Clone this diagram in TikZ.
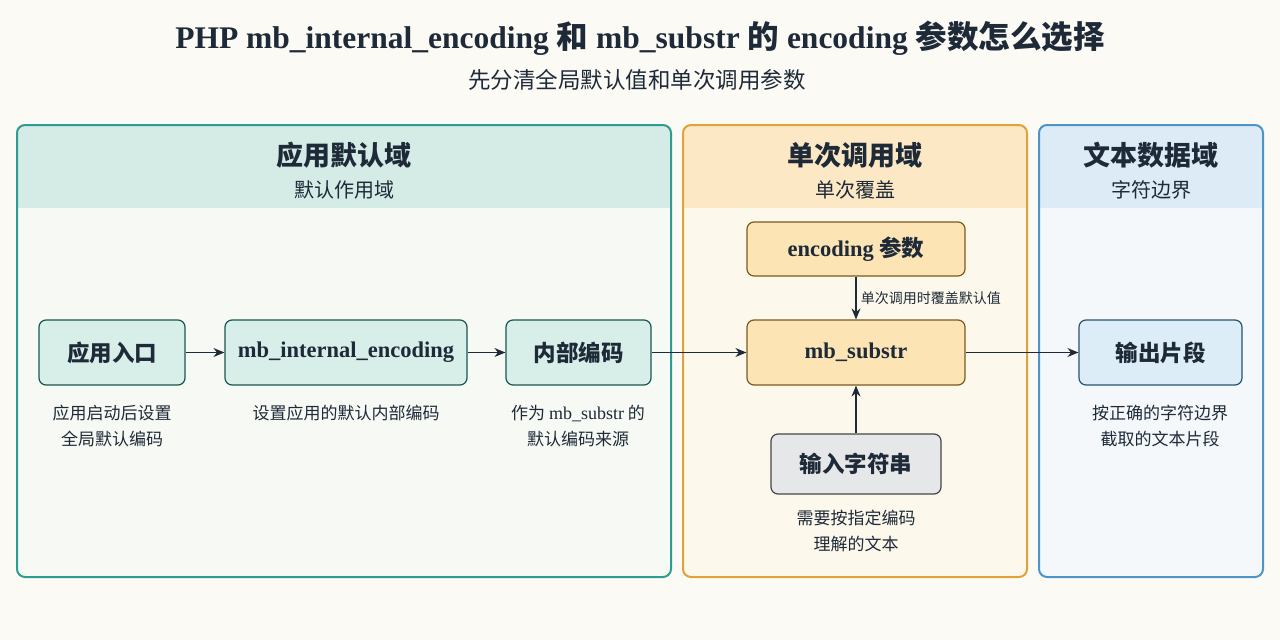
\documentclass[tikz,border=0pt]{standalone}
\usepackage{fontspec}
\setmainfont{Liberation Serif}
\newfontfamily\cjk{Noto Sans CJK SC}
\usetikzlibrary{arrows.meta}
\definecolor{bg}{HTML}{FBFAF4}
\definecolor{tealB}{HTML}{2E9C93}
\definecolor{tealH}{HTML}{D5ECE6}
\definecolor{tealBody}{HTML}{F7FAF4}
\definecolor{oraB}{HTML}{E0A23A}
\definecolor{oraH}{HTML}{FCE8C4}
\definecolor{oraBody}{HTML}{FDF8EC}
\definecolor{bluB}{HTML}{4D95C9}
\definecolor{bluH}{HTML}{DCEBF6}
\definecolor{bluBody}{HTML}{F4F8FA}
\definecolor{nodeT}{HTML}{D8EEE8}
\definecolor{nodeO}{HTML}{FCE4B5}
\definecolor{nodeG}{HTML}{E6E7E8}
\definecolor{nodeB}{HTML}{DDEDF8}
\definecolor{ink}{HTML}{1E2A38}
\begin{document}
\begin{tikzpicture}[x=1pt,y=-1pt,
  box/.style={draw=#1!55!black,line width=1.2pt,rounded corners=7pt,font=\bfseries\fontsize{22.5}{24}\selectfont,text=ink,inner sep=0},
  lab/.style={font=\cjk\fontsize{17}{26}\selectfont,align=center,text=ink},
  arr/.style={-{Stealth[length=11pt,width=9pt]},line width=1.2pt,draw=ink}]
\useasboundingbox (0,0) rectangle (1280,640);
\fill[bg] (0,0) rectangle (1280,640);
\node[font=\bfseries\fontsize{31.5}{34}\selectfont,text=ink] (title) at (640,38) {PHP mb\_internal\_encoding {\cjk 和} mb\_substr {\cjk 的} encoding {\cjk 参数怎么选择}};
\node[font=\cjk\fontsize{22.5}{26}\selectfont,text=ink] (sub) at (637,80) {先分清全局默认值和单次调用参数};
% panels
\foreach \xa/\xb/\B/\H/\F in {17/671/tealB/tealH/tealBody,683/1027/oraB/oraH/oraBody,1039/1263/bluB/bluH/bluBody}{
  \fill[\F,rounded corners=8pt] (\xa,125) rectangle (\xb,577);
  \begin{scope}
  \clip[rounded corners=8pt] (\xa,125) rectangle (\xb,577);
  \fill[\H] (\xa,125) rectangle (\xb,208);
  \end{scope}
  \draw[\B,line width=2pt,rounded corners=8pt] (\xa,125) rectangle (\xb,577);
}
\node[font=\cjk\bfseries\fontsize{27}{30}\selectfont,text=ink] (h1) at (344,155) {应用默认域};
\node[font=\cjk\fontsize{20}{24}\selectfont,text=ink] (s1) at (344,190) {默认作用域};
\node[font=\cjk\bfseries\fontsize{27}{30}\selectfont,text=ink] (h2) at (855,155) {单次调用域};
\node[font=\cjk\fontsize{20}{24}\selectfont,text=ink] (s2) at (855,190) {单次覆盖};
\node[font=\cjk\bfseries\fontsize{27}{30}\selectfont,text=ink] (h3) at (1151,155) {文本数据域};
\node[font=\cjk\fontsize{20}{24}\selectfont,text=ink] (s3) at (1151,190) {字符边界};
% nodes
\node[box=tealB,fill=nodeT,minimum width=146pt,minimum height=65pt] (a) at (112,352.5) {\cjk 应用入口};
\node[box=tealB,fill=nodeT,minimum width=242pt,minimum height=65pt] (b) at (346,352.5) {mb\_internal\_encoding};
\node[box=tealB,fill=nodeT,minimum width=145pt,minimum height=65pt] (c) at (578.5,352.5) {\cjk 内部编码};
\node[box=oraB,fill=nodeO,minimum width=218pt,minimum height=54pt] (e) at (856,249) {encoding {\cjk 参数}};
\node[box=oraB,fill=nodeO,minimum width=218pt,minimum height=65pt] (m) at (856,352.5) {mb\_substr};
\node[box=gray,fill=nodeG,minimum width=170pt,minimum height=60pt] (i) at (856,464) {\cjk 输入字符串};
\node[box=bluB,fill=nodeB,minimum width=163pt,minimum height=65pt] (o) at (1160.5,352.5) {\cjk 输出片段};
% labels
\node[lab] (la) at (112,426) {应用启动后设置\\全局默认编码};
\node[lab] (lb) at (346,413) {设置应用的默认内部编码};
\node[lab] (lc) at (578,426) {作为 {\rmfamily\fontsize{18}{20}\selectfont mb\_substr} 的\\默认编码来源};
\node[lab] (li) at (856,531) {需要按指定编码\\理解的文本};
\node[lab] (lo) at (1160,426) {按正确的字符边界\\截取的文本片段};
% arrows
\draw[arr] (a) -- (b);
\draw[arr] (b) -- (c);
\draw[arr] (c) -- (m);
\draw[arr] (m) -- (o);
\draw[arr] (e) -- node[right,font=\cjk\fontsize{14}{16}\selectfont,text=ink,xshift=1pt] (le) {单次调用时覆盖默认值} (m);
\draw[arr] (i) -- (m);
\end{tikzpicture}
\end{document}
